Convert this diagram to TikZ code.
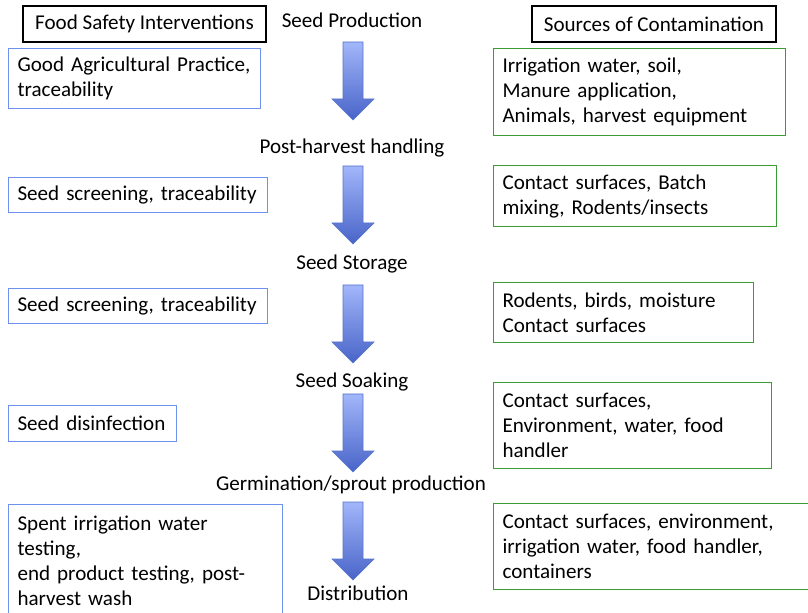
\documentclass[tikz,border=0pt]{standalone}
\usepackage{fontspec}
\setmainfont{Carlito}
\usetikzlibrary{positioning}
\definecolor{boxblue}{RGB}{110,145,240}
\definecolor{boxgreen}{RGB}{60,155,50}
\definecolor{arrtop}{RGB}{162,182,250}
\definecolor{arrbot}{RGB}{72,100,200}
\definecolor{arredge}{RGB}{85,115,205}
\tikzset{
  every node/.style={font=\fontsize{15.8pt}{18.75pt}\selectfont},
  headbox/.style={draw=black, line width=1.1pt, minimum height=27pt, inner sep=0pt},
  safebox/.style={draw=boxblue, line width=0.8pt, anchor=north west, align=left, inner xsep=6.75pt, inner ysep=0pt},
  sourcebox/.style={draw=boxgreen, line width=0.8pt, anchor=north west, align=left, inner xsep=6.75pt, inner ysep=0pt},
  stage/.style={inner sep=1pt},
  arrfill/.style={top color=arrtop, bottom color=arrbot, draw=arredge, line width=0.5pt}
}
\begin{document}
\begin{tikzpicture}[x=0.75pt,y=-0.75pt]
  \useasboundingbox (0,0) rectangle (808,613);
  % headings
  \node[headbox, minimum width=182.25pt] (safety) at (144.5,24) {Food Safety Interventions};
  \node[headbox, minimum width=183pt] (sources) at (654,24) {Sources of Contamination};
  % stages of the chain
  \node[stage] (prod) at (352,20) {Seed Production};
  \node[stage] (post) at (352,148) {Post-harvest handling};
  \node[stage] (stor) at (352,264) {Seed Storage};
  \node[stage] (soak) at (352,382) {Seed Soaking};
  \node[stage] (germ) at (351,485) {Germination/sprout production};
  \node[stage] (dist) at (358,593) {Distribution};
  % block arrows
  \foreach \t in {42,166,285,394,502}
    \shade[arrfill] (343,\t) -- (363,\t) -- (363,\t+57) -- (374,\t+57) -- (353,\t+78)
      -- (332,\t+57) -- (343,\t+57) -- cycle;
  % interventions
  \node[safebox, text width=175.5pt, minimum height=45pt] (gap) at (8,48)
    {Good Agricultural Practice,\\traceability};
  \node[safebox, text width=180.75pt, minimum height=26.25pt] (screenA) at (8,177)
    {Seed screening, traceability};
  \node[safebox, text width=180.75pt, minimum height=26.25pt] (screenB) at (8,288)
    {Seed screening, traceability};
  \node[safebox, text width=112.5pt, minimum height=27pt] (disinf) at (8,405)
    {Seed disinfection};
  \node[safebox, text width=192pt, minimum height=84pt] (testing) at (8,504)
    {Spent irrigation water\\testing,\\end product testing, post-\\harvest wash};
  % contamination
  \node[sourcebox, text width=205.5pt, minimum height=65.25pt] (field) at (493,48)
    {Irrigation water, soil,\\Manure application,\\Animals, harvest equipment};
  \node[sourcebox, text width=198.75pt, minimum height=45.75pt] (handling) at (493,165)
    {Contact surfaces, Batch\\mixing, Rodents/insects};
  \node[sourcebox, text width=181.5pt, minimum height=45pt] (storage) at (493,282)
    {Rodents, birds, moisture\\Contact surfaces};
  \node[sourcebox, text width=195pt, minimum height=64.5pt] (soaking) at (493,382)
    {Contact surfaces,\\Environment, water, food\\handler};
  \node[sourcebox, text width=225.75pt, minimum height=64.5pt] (sprouting) at (493,503)
    {Contact surfaces, environment,\\irrigation water, food handler,\\containers};
\end{tikzpicture}
\end{document}
